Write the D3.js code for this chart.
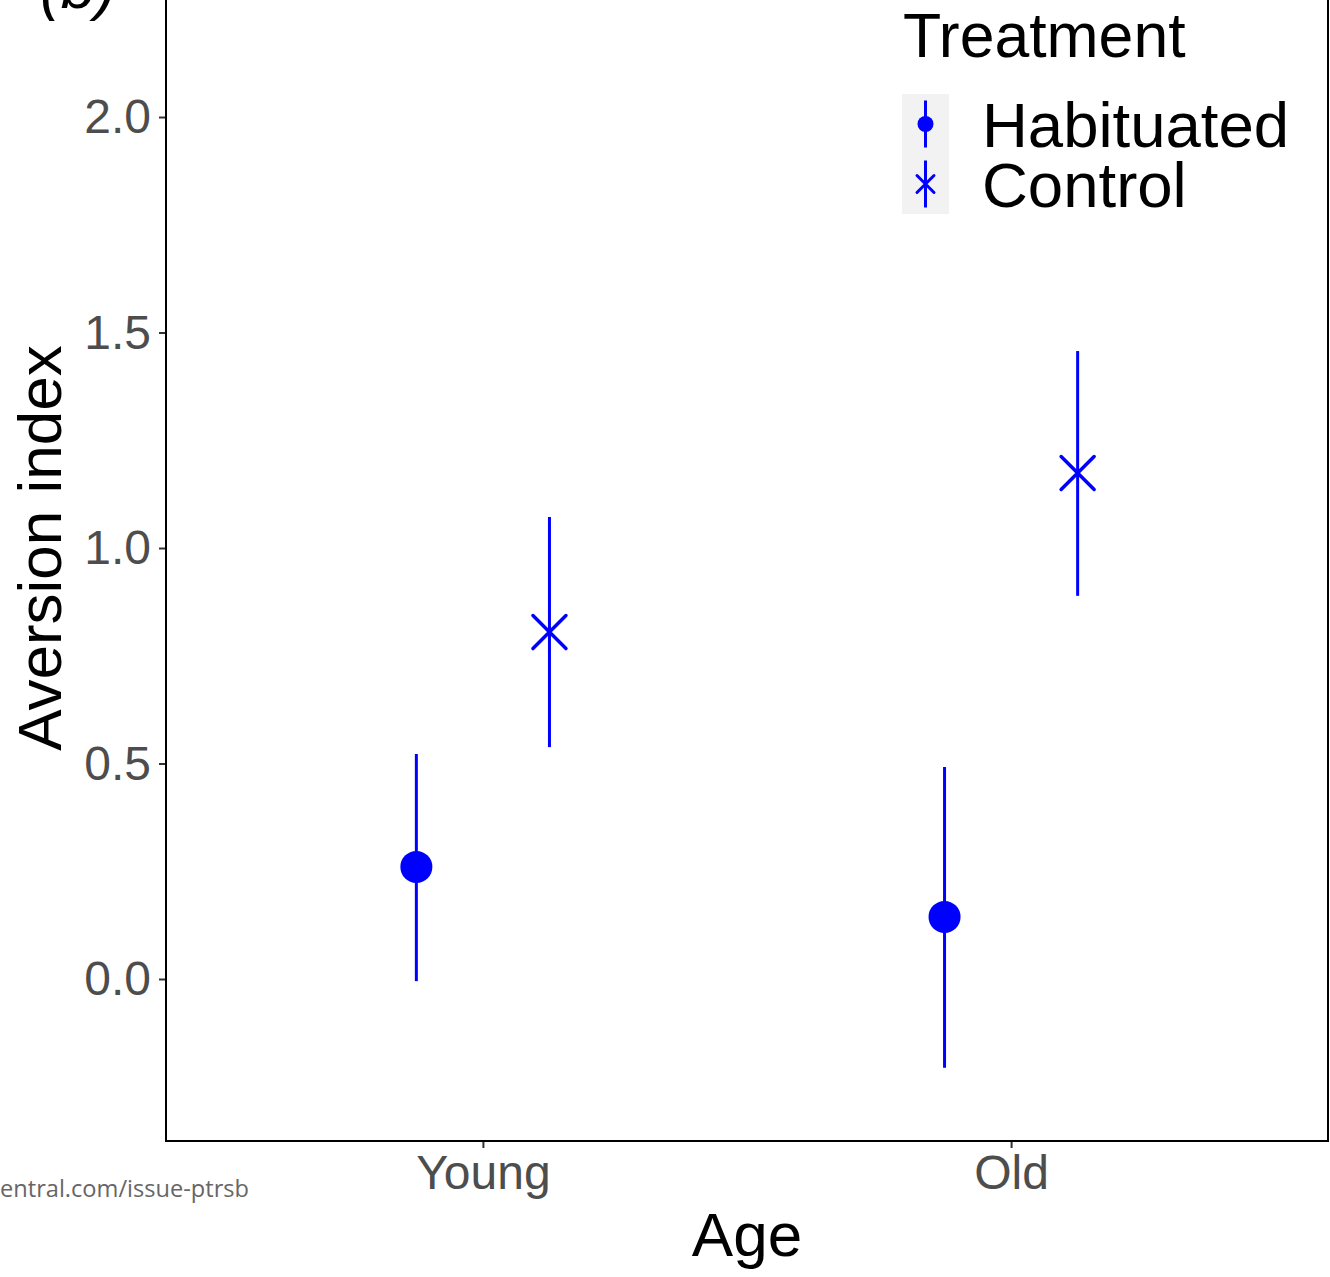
<!DOCTYPE html>
<html>
<head>
<meta charset="utf-8">
<script src="https://cdn.jsdelivr.net/npm/d3@7/dist/d3.min.js"></script>
<style>
  html, body { margin: 0; padding: 0; background: #fff; }
  svg { display: block; }
  text { font-family: "Liberation Sans", Arial, sans-serif; }
</style>
</head>
<body>
<svg id="chart" width="1330" height="1277"></svg>
<script>
// ---- Data ----
const ages = ["Young", "Old"];
const treatments = ["Habituated", "Control"];
const meanValues = { Habituated: [0.260, 0.144], Control: [0.805, 1.174] };
const lowerValues = { Habituated: [-0.005, -0.206], Control: [0.538, 0.889] };
const upperValues = { Habituated: [0.522, 0.492], Control: [1.072, 1.457] };
const yTicks = [0.0, 0.5, 1.0, 1.5, 2.0];

// ---- Layout ----
const panel = { left: 166, right: 1328, top: -10, bottom: 1141 };
const blue = "#0000ff";
const svg = d3.select("#chart");

const x = d3.scalePoint().domain(ages).range([panel.left, panel.right]).padding(0.6);
const dodge = d3.scalePoint().domain(treatments).range([-0.126, 0.126]);
const y = d3.scaleLinear().domain([-0.3759, 2.2715]).range([1141, 0]);

const rows = [];
treatments.forEach(t => ages.forEach((a, i) => rows.push({
  t, a, m: meanValues[t][i], lo: lowerValues[t][i], hi: upperValues[t][i]
})));
const px = d => x(d.a) + dodge(d.t) * x.step();

// axes
const yAxis = svg.append("g").attr("transform", `translate(${panel.left},0)`)
  .call(d3.axisLeft(y).tickValues(yTicks).tickFormat(d3.format(".1f")).tickSize(7).tickPadding(8));
yAxis.select(".domain").remove();
yAxis.selectAll(".tick line").attr("stroke", "#333").attr("stroke-width", 2);
yAxis.selectAll(".tick text").attr("fill", "#4d4d4d").attr("font-size", 48)
  .attr("dy", "0.33em").style("font-family", "'Liberation Sans', Arial, sans-serif");

const xAxis = svg.append("g").attr("transform", `translate(0,${panel.bottom})`)
  .call(d3.axisBottom(x).tickSize(7).tickPadding(7));
xAxis.select(".domain").remove();
xAxis.selectAll(".tick line").attr("stroke", "#333").attr("stroke-width", 2);
xAxis.selectAll(".tick text").attr("fill", "#4d4d4d").attr("font-size", 48)
  .style("font-family", "'Liberation Sans', Arial, sans-serif");

// panel border (top outside view)
svg.append("path")
  .attr("d", `M${panel.left},${panel.top}V${panel.bottom}H${panel.right}V${panel.top}`)
  .attr("fill", "none").attr("stroke", "#000").attr("stroke-width", 2);

// error bars
svg.append("g").selectAll("line").data(rows).join("line")
  .attr("x1", px).attr("x2", px)
  .attr("y1", d => y(d.lo)).attr("y2", d => y(d.hi))
  .attr("stroke", blue).attr("stroke-width", 3);

// points
const g = svg.append("g");
rows.forEach(d => {
  const cx = px(d), cy = y(d.m);
  if (d.t === "Habituated") {
    g.append("circle").attr("cx", cx).attr("cy", cy).attr("r", 16).attr("fill", blue);
  } else {
    const s = 16.5;
    g.append("path")
      .attr("d", `M${cx - s},${cy - s}L${cx + s},${cy + s}M${cx - s},${cy + s}L${cx + s},${cy - s}`)
      .attr("stroke", blue).attr("stroke-width", 3.5).attr("stroke-linecap", "round").attr("fill", "none");
  }
});

// axis titles
svg.append("text").attr("x", 747).attr("y", 1256).attr("text-anchor", "middle")
  .attr("font-size", 62).attr("fill", "#000").text("Age");
svg.append("text").attr("transform", "translate(61,548) rotate(-90)").attr("text-anchor", "middle")
  .attr("font-size", 62).attr("fill", "#000").text("Aversion index");

// legend
const leg = svg.append("g");
leg.append("text").attr("x", 903).attr("y", 57).attr("font-size", 62.5).attr("fill", "#000").text("Treatment");
leg.append("rect").attr("x", 902).attr("y", 94).attr("width", 47).attr("height", 120).attr("fill", "#f2f2f2");
treatments.forEach((t, i) => {
  const cy = 124 + i * 60, cx = 925.5;
  leg.append("line").attr("x1", cx).attr("x2", cx).attr("y1", cy - 23.5).attr("y2", cy + 23.5)
    .attr("stroke", blue).attr("stroke-width", 3);
  if (t === "Habituated") {
    leg.append("circle").attr("cx", cx).attr("cy", cy).attr("r", 8).attr("fill", blue);
  } else {
    const s = 8.5;
    leg.append("path")
      .attr("d", `M${cx - s},${cy - s}L${cx + s},${cy + s}M${cx - s},${cy + s}L${cx + s},${cy - s}`)
      .attr("stroke", blue).attr("stroke-width", 3).attr("stroke-linecap", "round");
  }
  leg.append("text").attr("x", 982).attr("y", cy + 23).attr("font-size", 63.5).attr("fill", "#000").text(t);
});

// panel tag and page footer fragment
svg.append("text").attr("x", 40).attr("y", 8).attr("font-size", 62).attr("font-style", "italic")
  .attr("fill", "#000").text("(b)");
svg.append("text").attr("x", 0).attr("y", 1197).attr("font-size", 23)
  .attr("textLength", 249).attr("lengthAdjust", "spacingAndGlyphs")
  .style("font-family", "'Open Sans', 'Noto Sans', sans-serif").attr("fill", "#666")
  .text("entral.com/issue-ptrsb");
</script>
</body>
</html>
